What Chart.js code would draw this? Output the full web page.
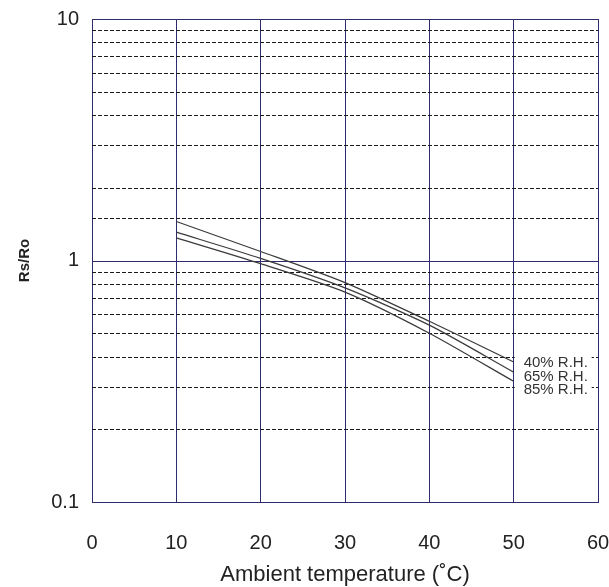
<!DOCTYPE html>
<html lang="en">
  <head>
    <meta charset="utf-8"/>
    <script src="https://cdn.jsdelivr.net/npm/chart.js@4/dist/chart.umd.min.js"></script>
    <style>
      html, body { margin: 0; padding: 0; background: #fff; }
      #box { width: 609px; height: 587px; }
    </style>
  </head>
  <body>
    <div id="box"><canvas id="plot"></canvas></div>

<script>
// values
const temps = [10, 20, 30, 40, 50];
const rh40 = [1.45, 1.09, 0.81, 0.56, 0.38];
const rh65 = [1.31, 1.02, 0.77, 0.54, 0.345];
const rh85 = [1.24, 0.97, 0.74, 0.50, 0.316];
const curveLabels = ['40% R.H.', '65% R.H.', '85% R.H.'];
const yLabels = [0.1, 1, 10];

const navy = '#2e2c6c';
const fam = '"Liberation Sans", Arial, sans-serif';

function pairs(ys) {
    return temps.map((t, i) => ({ x: t, y: ys[i] }));
}

// y grid: solid for decades, dashed for the rest
const yGrid = {
    id: 'yGrid',
    beforeDatasetsDraw(chart) {
        const { ctx, chartArea, scales } = chart;
        const y = scales.y;
        ctx.save();
        ctx.lineWidth = 1;
        for (const t of y.ticks) {
            const py = Math.round(y.getPixelForValue(t.value)) + 0.5;
            const major = yLabels.includes(+t.value.toFixed(3));
            ctx.strokeStyle = major ? navy : '#1a1a1a';
            ctx.setLineDash(major ? [] : [4, 2]);
            ctx.beginPath();
            ctx.moveTo(chartArea.left, py);
            ctx.lineTo(chartArea.right, py);
            ctx.stroke();
        }
        ctx.restore();
    }
};

// labels for the three curves, on a white patch
const curveText = {
    id: 'curveText',
    afterDatasetsDraw(chart) {
        const { ctx, scales } = chart;
        const x0 = scales.x.getPixelForValue(50);
        ctx.save();
        ctx.fillStyle = '#fff';
        ctx.fillRect(x0 + 1, 351, 77, 45);
        ctx.fillStyle = '#333';
        ctx.font = '15px ' + fam;
        ctx.textBaseline = 'middle';
        curveLabels.forEach((s, i) => {
            ctx.fillText(s, x0 + 10, 363 + i * 13.5);
        });
        ctx.restore();
    }
};

const line = (label, ys) => ({
    label: label,
    data: pairs(ys),
    borderColor: '#3a3a3a',
    borderWidth: 1.2,
    pointRadius: 0,
    fill: false,
    tension: 0.25,
});

const tickFont = { family: fam, size: 20 };

new Chart(document.getElementById('plot'), {
    type: 'line',
    data: {
        datasets: [
            line(curveLabels[0], rh40),
            line(curveLabels[1], rh65),
            line(curveLabels[2], rh85),
        ]
    },
    options: {
        responsive: true,
        maintainAspectRatio: false,
        animation: false,
        layout: { padding: { top: 19, right: 11, left: 0, bottom: 0 } },
        plugins: {
            legend: { display: false },
            tooltip: { enabled: false },
        },
        scales: {
            x: {
                type: 'linear',
                min: 0,
                max: 60,
                ticks: { stepSize: 10, padding: 29, color: '#222', font: tickFont },
                grid: { color: navy, lineWidth: 1, drawTicks: false },
                border: { color: navy },
                title: {
                    display: true,
                    text: 'Ambient temperature (˚C)',
                    color: '#222',
                    font: { family: fam, size: 22 },
                    padding: { top: 0, bottom: -1 },
                },
                afterFit(scale) {
                    scale.height = 85;
                    scale.paddingLeft = 0;
                    scale.paddingRight = 0;
                },
            },
            y: {
                type: 'logarithmic',
                min: 0.1,
                max: 10,
                ticks: {
                    autoSkip: false,
                    padding: 13,
                    color: '#222',
                    font: tickFont,
                    callback: (v) => yLabels.includes(+Number(v).toFixed(3)) ? String(v) : '',
                },
                grid: { display: false, drawTicks: false },
                border: { display: false },
                title: {
                    display: true,
                    text: 'Rs/Ro',
                    color: '#222',
                    font: { family: fam, size: 15, weight: 'bold' },
                    padding: { top: 16, bottom: 0 },
                },
                afterFit(scale) {
                    scale.width = 92;
                    scale.paddingTop = 0;
                    scale.paddingBottom = 0;
                },
            },
        },
    },
    plugins: [yGrid, curveText],
});
</script>
  </body>
</html>
